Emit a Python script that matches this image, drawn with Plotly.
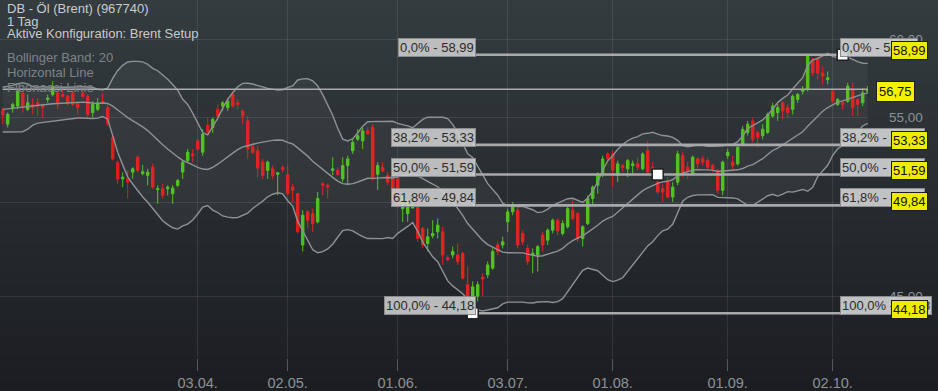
import math
import pandas as pd
import plotly.graph_objects as go

# ---------------- data ----------------
holidays = {"2017-04-14", "2017-04-17", "2017-05-01"}
dates = [d.strftime("%Y-%m-%d") for d in pd.bdate_range("2017-02-07", "2017-10-11")
         if d.strftime("%Y-%m-%d") not in holidays]

open_ = [55.45, 54.58, 55.60, 55.70, 56.52, 55.49, 55.80, 55.90, 55.80, 56.10,
         56.42, 56.52, 56.42, 56.31, 56.52, 55.90, 56.52, 56.31, 55.29, 55.49,
         56.00, 55.60, 53.78, 52.30, 51.34, 51.34, 51.73, 52.60, 51.65, 51.54,
         52.01, 50.73, 50.78, 50.78, 50.50, 50.97, 51.73, 52.40, 52.79, 53.57,
         52.89, 54.52, 54.38, 55.49, 55.70, 55.60, 56.42, 55.90, 55.39, 54.78,
         53.24, 52.98, 52.31, 51.83, 51.92, 51.60, 52.00, 51.58, 50.87, 50.50,
         47.68, 49.48, 49.38, 48.93, 51.06, 50.97, 51.83, 51.83, 51.34, 52.11,
         52.98, 53.67, 53.57, 54.17, 54.38, 51.60, 52.00, 51.54, 51.54, 51.34,
         49.66, 49.38, 49.70, 49.84, 48.57, 47.76, 48.17, 48.39, 48.39, 47.00,
         47.15, 47.15, 47.24, 45.61, 44.85, 45.03, 46.00, 46.12, 46.46, 47.68,
         47.68, 48.93, 49.48, 49.57, 48.30, 47.50, 47.15, 47.15, 48.21, 47.94,
         48.48, 49.02, 48.30, 48.66, 49.57, 49.38, 48.03, 48.84, 50.22, 50.97,
         51.63, 52.79, 52.79, 51.54, 52.11, 51.92, 52.11, 52.21, 51.92, 52.98,
         52.00, 51.15, 50.78, 51.15, 50.31, 51.15, 52.69, 52.01, 51.63, 52.50,
         52.50, 52.40, 52.11, 51.83, 50.69, 52.69, 52.31, 52.21, 53.38, 54.08,
         54.78, 54.08, 53.88, 54.08, 55.08, 55.29, 55.90, 55.60, 55.49, 56.11,
         56.62, 56.74, 58.66, 58.77, 57.80, 57.37, 56.62, 55.80, 55.90, 56.00,
         56.74, 56.11, 55.90, 56.62]
high = [55.60, 55.30, 55.90, 56.74, 56.60, 56.42, 56.20, 56.20, 55.85, 56.42,
        57.27, 56.62, 56.74, 56.42, 56.62, 56.00, 56.62, 56.42, 56.00, 56.20,
        56.52, 55.80, 53.88, 52.40, 51.73, 51.83, 52.01, 52.69, 52.15, 51.92,
        52.21, 50.97, 51.06, 50.97, 50.97, 51.34, 52.40, 53.08, 53.08, 53.67,
        54.27, 54.98, 54.98, 55.80, 56.00, 56.20, 56.62, 56.11, 55.49, 55.08,
        53.48, 53.28, 52.50, 52.40, 52.11, 51.73, 52.11, 52.11, 51.06, 50.55,
        49.57, 49.57, 49.66, 50.59, 51.15, 51.06, 52.60, 52.01, 52.60, 52.69,
        53.67, 54.27, 54.38, 54.38, 54.58, 52.31, 52.31, 51.73, 51.73, 51.54,
        50.60, 50.22, 50.03, 50.03, 48.66, 48.57, 49.02, 49.11, 48.66, 47.15,
        47.60, 47.76, 47.33, 46.55, 45.78, 45.78, 46.20, 46.81, 47.50, 47.85,
        48.12, 49.66, 50.03, 49.84, 48.48, 47.68, 47.50, 47.68, 48.39, 48.57,
        49.11, 49.11, 49.02, 49.84, 50.12, 49.48, 48.75, 50.40, 50.97, 51.73,
        52.69, 52.89, 52.98, 52.40, 52.21, 52.50, 52.40, 52.60, 52.89, 53.57,
        52.31, 51.73, 51.06, 51.44, 51.15, 52.98, 52.89, 52.31, 52.69, 52.60,
        52.69, 52.60, 52.21, 51.92, 52.40, 53.08, 52.69, 53.38, 54.48, 54.78,
        54.98, 54.17, 54.58, 55.29, 55.90, 55.80, 56.00, 55.80, 56.42, 56.52,
        56.95, 58.99, 58.77, 58.88, 58.23, 57.90, 56.74, 56.20, 56.00, 57.16,
        57.16, 56.20, 56.84, 56.95]
low = [54.58, 54.38, 55.29, 55.49, 55.29, 55.39, 55.18, 55.08, 54.98, 55.90,
       56.31, 55.49, 56.20, 55.70, 55.70, 55.18, 56.20, 54.88, 54.98, 55.39,
       55.80, 54.48, 52.40, 51.05, 50.87, 50.22, 51.34, 51.73, 51.54, 50.97,
       50.78, 49.93, 50.22, 50.40, 49.93, 50.87, 51.34, 52.31, 52.31, 52.98,
       52.69, 53.98, 54.04, 54.98, 55.39, 55.39, 55.60, 55.49, 54.58, 52.50,
       52.79, 51.44, 51.34, 51.34, 51.34, 50.40, 51.73, 50.40, 50.03, 48.30,
       47.33, 48.57, 48.39, 48.84, 50.40, 50.22, 51.54, 51.54, 51.15, 50.97,
       52.79, 53.57, 53.08, 53.95, 51.24, 50.70, 51.73, 51.00, 50.10, 49.70,
       48.93, 48.93, 49.66, 47.85, 47.50, 47.33, 48.03, 48.03, 46.63, 46.81,
       46.98, 46.63, 45.87, 44.77, 44.18, 44.77, 45.03, 45.95, 46.38, 47.15,
       47.50, 48.39, 49.29, 47.50, 47.68, 46.63, 46.20, 46.29, 47.33, 47.68,
       48.30, 48.20, 48.20, 48.57, 49.02, 47.85, 47.60, 48.75, 49.84, 50.50,
       51.44, 52.40, 50.90, 51.15, 51.73, 51.44, 51.54, 51.83, 51.83, 51.54,
       51.73, 50.50, 50.03, 50.22, 50.03, 50.97, 51.44, 51.34, 51.54, 51.92,
       52.11, 51.83, 51.73, 50.50, 50.40, 52.50, 51.83, 52.11, 53.28, 53.88,
       53.48, 53.18, 53.67, 53.98, 54.98, 54.78, 54.88, 54.98, 55.18, 55.90,
       56.42, 56.60, 57.60, 57.37, 57.06, 57.06, 55.90, 55.70, 55.49, 55.90,
       55.08, 55.08, 55.70, 56.52]
close = [55.13, 55.18, 55.80, 56.62, 55.60, 55.90, 55.60, 55.70, 55.60, 56.20,
         56.95, 55.90, 56.31, 55.90, 55.80, 55.60, 56.31, 55.18, 55.80, 55.90,
         55.90, 54.58, 52.50, 51.34, 51.44, 51.15, 51.92, 51.83, 51.75, 51.73,
         50.87, 50.78, 50.40, 50.87, 50.81, 51.24, 52.31, 52.89, 52.69, 53.08,
         53.98, 54.08, 54.88, 55.08, 55.90, 56.00, 55.70, 55.80, 55.08, 53.08,
         52.89, 51.96, 51.54, 52.31, 51.54, 51.69, 51.90, 50.50, 50.69, 48.39,
         49.29, 49.02, 48.84, 50.22, 50.97, 50.87, 51.92, 51.58, 52.11, 52.50,
         53.48, 53.88, 54.17, 54.00, 51.34, 52.11, 51.80, 51.15, 50.22, 49.84,
         50.40, 50.12, 49.84, 48.03, 47.68, 48.12, 48.30, 48.75, 47.15, 46.90,
         47.33, 46.81, 45.95, 44.94, 45.50, 45.61, 45.90, 46.63, 47.33, 47.33,
         47.85, 49.48, 49.84, 47.68, 47.85, 46.81, 47.24, 47.59, 47.68, 48.48,
         49.02, 48.43, 48.84, 49.66, 49.11, 48.03, 48.66, 50.22, 50.87, 51.54,
         52.50, 52.50, 51.83, 52.21, 52.01, 52.40, 52.21, 52.01, 52.79, 51.73,
         51.90, 50.59, 50.59, 50.31, 50.87, 52.79, 51.63, 51.83, 52.60, 52.21,
         52.31, 52.01, 51.92, 50.69, 52.31, 52.89, 52.11, 53.18, 54.27, 54.58,
         53.67, 53.78, 54.27, 55.18, 55.70, 55.60, 55.39, 55.29, 56.31, 56.42,
         56.74, 58.88, 57.80, 57.80, 57.60, 57.48, 56.00, 56.11, 55.80, 56.95,
         55.60, 55.80, 56.52, 56.75]

# Bollinger values for the first 19 sessions (window not yet filled)
bb_mid_warm = [55.49, 55.51, 55.55, 55.60, 55.64, 55.68, 55.72, 55.76, 55.80, 55.82,
               55.84, 55.86, 55.88, 55.90, 55.92, 55.94, 55.94, 55.92, 55.90]
bb_up_warm = [56.88, 56.92, 57.00, 57.10, 57.16, 57.09, 56.92, 56.88, 56.92, 56.90,
              56.88, 56.88, 56.88, 56.88, 56.90, 56.92, 56.92, 56.90, 56.88]
bb_low_warm = [54.10, 54.10, 54.10, 54.10, 54.12, 54.27, 54.52, 54.64, 54.68, 54.74,
               54.80, 54.84, 54.88, 54.92, 54.94, 54.96, 54.96, 54.94, 54.92]

hline_value = 56.75
fib_pct = ["0,0%", "38,2%", "50,0%", "61,8%", "100,0%"]
fib_levels = [58.99, 53.33, 51.59, 49.84, 44.18]
fib_start_idx = 94
fib_end_idx = 168

tick_dates = ["2017-04-03", "2017-05-02", "2017-06-01", "2017-07-03",
              "2017-08-01", "2017-09-01", "2017-10-02"]
tick_text = ["03.04.", "02.05.", "01.06.", "03.07.", "01.08.", "01.09.", "02.10."]
y_ticks = [45, 50, 55, 60]
y_tick_text = ["45,00", "50,00", "55,00", "60,00"]

header = ["DB - Öl (Brent) (967740)", "1 Tag", "Aktive Konfiguration: Brent Setup"]
indicators = ["Bollinger Band: 20", "Horizontal Line", "Fibonacci Linie"]

n = min(len(dates), len(close))
dates = dates[:n]

# ---------------- Bollinger band ----------------
cs = pd.Series(close[:n])
mid = cs.rolling(20).mean()
sd = cs.rolling(20).std(ddof=0)
up = (mid + 2 * sd).tolist()
lo = (mid - 2 * sd).tolist()
mid = mid.tolist()
for i in range(19):
    mid[i] = bb_mid_warm[i]
    up[i] = bb_up_warm[i]
    lo[i] = bb_low_warm[i]

FONT = "Liberation Sans, Arial, sans-serif"
W, H = 938, 391
PL, PR, PT, PB = 0, 70, 0, 31
PW, PH = W - PL - PR, H - PT - PB

fig = go.Figure()

# background gradient
top = (52, 60, 64)
bot = (27, 29, 33)
NS = 60
for k in range(NS):
    py0 = H * k / NS
    py1 = H * (k + 1) / NS + 0.6
    t = (k + 0.5) / NS
    c = tuple(int(round(top[j] + (bot[j] - top[j]) * t)) for j in range(3))
    fig.add_shape(type="rect", xref="paper", yref="paper", layer="below",
                  x0=-0.01, x1=W / PW + 0.01,
                  y0=1 - py1 / PH, y1=1 - py0 / PH,
                  fillcolor="rgb(%d,%d,%d)" % c, line=dict(width=0))

band_col = "#8e9295"
fig.add_trace(go.Scatter(x=dates, y=up, mode="lines", line=dict(color=band_col, width=1.4),
                         hoverinfo="skip"))
fig.add_trace(go.Scatter(x=dates, y=lo, mode="lines", line=dict(color=band_col, width=1.4),
                         fill="tonexty", fillcolor="rgba(255,255,255,0.045)", hoverinfo="skip"))
fig.add_trace(go.Scatter(x=dates, y=mid, mode="lines", line=dict(color=band_col, width=1.4),
                         hoverinfo="skip"))

fig.add_trace(go.Candlestick(
    x=dates, open=open_[:n], high=high[:n], low=low[:n], close=close[:n],
    increasing=dict(line=dict(color="#4cc01c", width=1), fillcolor="#4cc01c"),
    decreasing=dict(line=dict(color="#e21a1a", width=1), fillcolor="#e21a1a"),
    whiskerwidth=0, hoverinfo="skip"))

# horizontal line
fig.add_trace(go.Scatter(x=[dates[0], dates[-1]], y=[hline_value, hline_value], mode="lines",
                         line=dict(color="#a9abad", width=1.6), hoverinfo="skip"))

# fibonacci lines
for lv in fib_levels:
    fig.add_trace(go.Scatter(x=[dates[fib_start_idx], dates[fib_end_idx]], y=[lv, lv],
                             mode="lines", line=dict(color="#a7a9ab", width=2.6),
                             hoverinfo="skip"))

mid_idx = (fib_start_idx + fib_end_idx) // 2
fig.add_trace(go.Scatter(
    x=[dates[fib_start_idx], dates[mid_idx], dates[fib_end_idx]],
    y=[fib_levels[-1], fib_levels[2], fib_levels[0]],
    mode="markers", marker=dict(symbol="square", size=11, color="white",
                                line=dict(color="#222", width=1.5)),
    hoverinfo="skip"))

ann = []
# header texts
for j, t in enumerate(header):
    ann.append(dict(text=t, xref="paper", yref="paper", x=5 / PW, y=1 - (9 + 12.2 * j) / PH,
                    xanchor="left", yanchor="middle", showarrow=False,
                    font=dict(family=FONT, size=13, color="#c9cbcd")))
for j, t in enumerate(indicators):
    ann.append(dict(text=t, xref="paper", yref="paper", x=5 / PW, y=1 - (58 + 15 * j) / PH,
                    xanchor="left", yanchor="middle", showarrow=False,
                    font=dict(family=FONT, size=13, color="#7e8386")))

lab_font = dict(family=FONT, size=13, color="#2b2b2b")
for pct, lv in zip(fib_pct, fib_levels):
    txt = "%s - %s" % (pct, ("%.2f" % lv).replace(".", ","))
    ann.append(dict(text=txt, x=dates[fib_start_idx], y=math.log10(lv), xref="x", yref="y",
                    xanchor="right", yanchor="bottom", xshift=3, yshift=-2, showarrow=False,
                    bgcolor="rgba(206,207,208,0.88)", bordercolor="#8a8c8e", borderwidth=1,
                    borderpad=1, font=lab_font))
    ann.append(dict(text=txt, x=dates[fib_end_idx], y=math.log10(lv), xref="x", yref="y",
                    xanchor="left", yanchor="bottom", xshift=-3, yshift=-2, showarrow=False,
                    bgcolor="rgba(206,207,208,0.92)", bordercolor="#8a8c8e", borderwidth=1,
                    borderpad=1, font=lab_font))
    ann.append(dict(text=("%.2f" % lv).replace(".", ","), x=891 / PW, y=math.log10(lv),
                    xref="paper", yref="y", xanchor="left", yanchor="middle", yshift=4,
                    showarrow=False, bgcolor="#eeec00", bordercolor="#1e1e1e", borderwidth=1,
                    borderpad=1, font=dict(family=FONT, size=13, color="#111")))

ann.append(dict(text=("%.2f" % hline_value).replace(".", ","), x=876 / PW,
                y=math.log10(hline_value), xref="paper", yref="y", xanchor="left",
                yanchor="middle", yshift=-2, showarrow=False, bgcolor="#f4f200",
                bordercolor="#1e1e1e", borderwidth=1, borderpad=2,
                font=dict(family=FONT, size=13, color="#111")))

ymin, ymax = 42.02, 62.71
fig.update_layout(
    width=W, height=H, margin=dict(l=PL, r=PR, t=PT, b=PB, pad=0),
    paper_bgcolor="#1c1f23", plot_bgcolor="rgba(0,0,0,0)",
    showlegend=False, annotations=ann, hovermode=False,
    font=dict(family=FONT),
    xaxis=dict(type="category", range=[-0.54, 173.06], tickvals=tick_dates, ticktext=tick_text,
               ticks="outside", ticklen=12, tickcolor="#55595d", tickwidth=1,
               tickfont=dict(family=FONT, size=14.5, color="#8e9295"),
               showgrid=True, gridcolor="rgba(255,255,255,0.09)", gridwidth=1,
               zeroline=False, showline=False, rangeslider=dict(visible=False)),
    yaxis=dict(type="log", range=[math.log10(ymin), math.log10(ymax)], side="right",
               tickvals=y_ticks, ticktext=y_tick_text, ticks="",
               ticklabelstandoff=20,
               tickfont=dict(family=FONT, size=13.5, color="#8e9295"),
               showgrid=True, gridcolor="rgba(255,255,255,0.09)", gridwidth=1,
               zeroline=False, showline=False),
)

fig.write_html("out.html", config={"displayModeBar": False, "staticPlot": True},
               post_script="document.body.style.margin='0';document.body.style.padding='0';"
                           "document.body.style.overflow='hidden';")
